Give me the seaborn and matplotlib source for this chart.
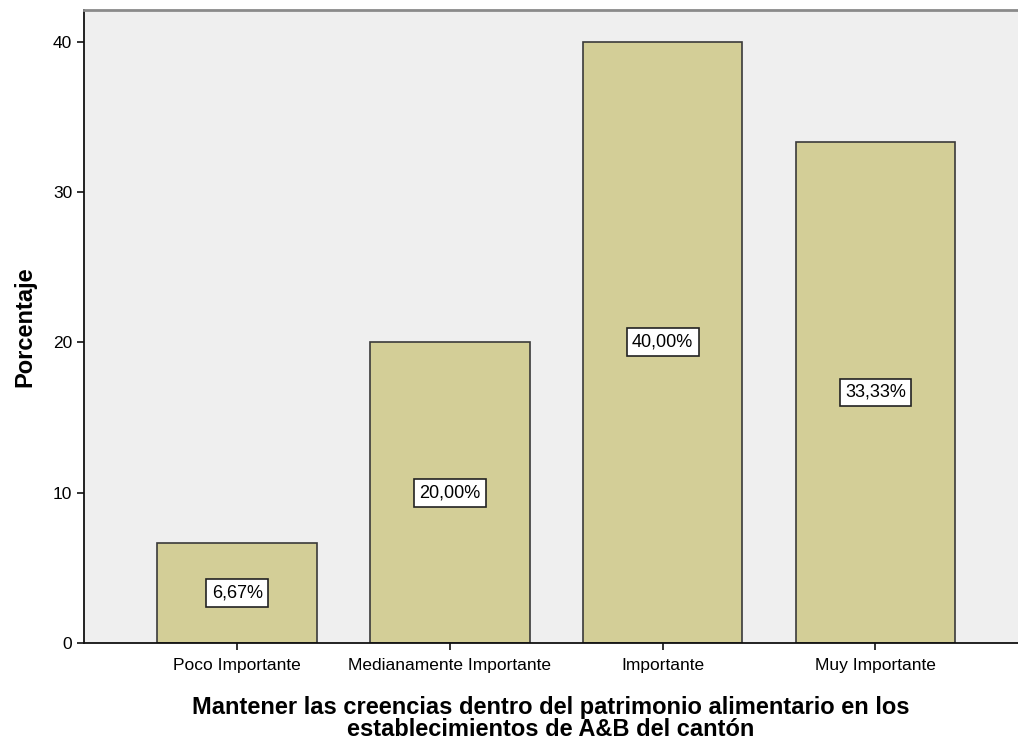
import seaborn as sns
import matplotlib.pyplot as plt
import pandas as pd

# Category labels and percentages
categorias = ['Poco Importante', 'Medianamente Importante', 'Importante', 'Muy Importante']
porcentajes = [6.67, 20.00, 40.00, 33.33]
etiquetas = ['6,67%', '20,00%', '40,00%', '33,33%']

df = pd.DataFrame({'categoria': categorias, 'porcentaje': porcentajes})

sns.set_theme(style='white')
plt.rcParams['font.family'] = ['Liberation Sans', 'DejaVu Sans']
plt.rcParams['text.color'] = 'black'
plt.rcParams['axes.labelcolor'] = 'black'
plt.rcParams['xtick.color'] = 'black'
plt.rcParams['ytick.color'] = 'black'

fig = plt.figure(figsize=(10.18, 7.45), dpi=100)
ax = fig.add_axes([0.0825, 0.1369, 0.9175, 0.8497])
ax.set_facecolor('#efefef')

sns.barplot(data=df, x='categoria', y='porcentaje', color='#d3ce97',
            saturation=1, width=0.75, edgecolor='#3a3a3a', linewidth=1.2, ax=ax)

# Value labels boxed in the middle of each bar
for i, (val, txt) in enumerate(zip(porcentajes, etiquetas)):
    ax.text(i, val / 2, txt, ha='center', va='center', fontsize=13,
            bbox=dict(boxstyle='square,pad=0.3', facecolor='white',
                      edgecolor='#222222', linewidth=1.2))

ax.set_xlim(-0.72, 3.67)
ax.set_ylim(0, 42.1)
ax.set_yticks([0, 10, 20, 30, 40])

ax.spines['right'].set_visible(False)
ax.spines['top'].set_color('#8a8a8a')
ax.spines['top'].set_linewidth(2)
ax.spines['left'].set_color('#111111')
ax.spines['bottom'].set_color('#111111')
ax.spines['left'].set_linewidth(1.3)
ax.spines['bottom'].set_linewidth(1.3)

ax.tick_params(axis='both', which='both', direction='out', length=5, width=1.2,
               color='#111111', labelsize=12.5, left=True, bottom=True)
ax.tick_params(axis='x', pad=6)

ax.set_ylabel('Porcentaje', fontsize=17, fontweight='bold', labelpad=12)
ax.set_xlabel('Mantener las creencias dentro del patrimonio alimentario en los\n'
              'establecimientos de A&B del cantón', fontsize=17, fontweight='bold',
              labelpad=16, linespacing=0.95)

fig.savefig('out.png', dpi=100)
